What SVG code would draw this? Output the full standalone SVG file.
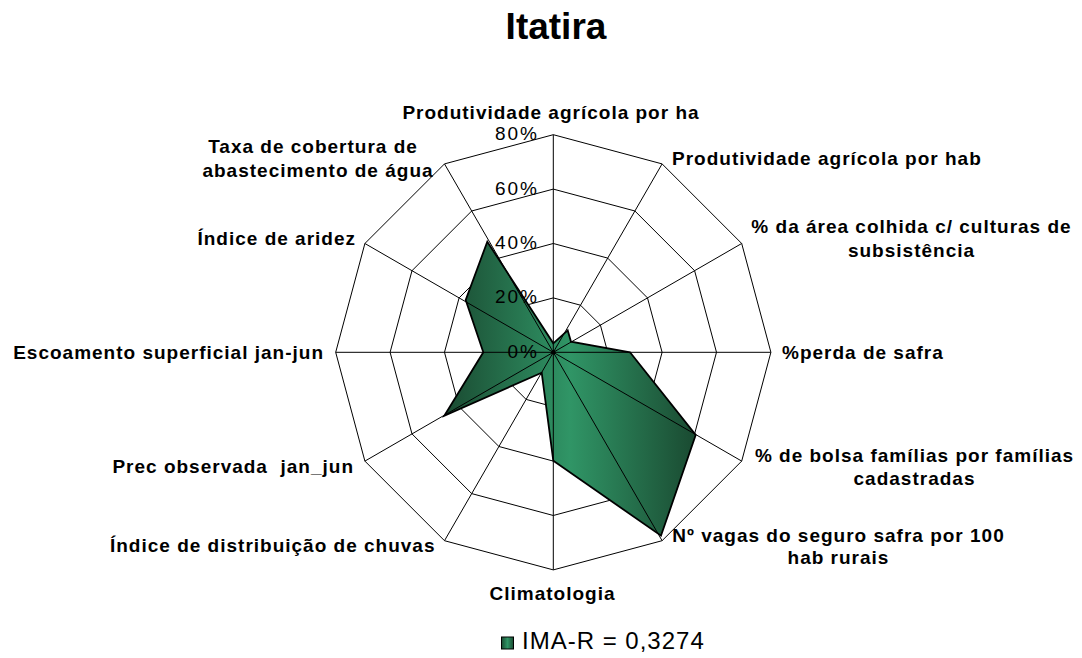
<svg xmlns="http://www.w3.org/2000/svg" width="1082" height="658" viewBox="0 0 1082 658">
<defs>
<linearGradient id="fillG" x1="0" y1="0" x2="1" y2="0">
<stop offset="0" stop-color="#1a4a31"/>
<stop offset="0.5" stop-color="#309566"/>
<stop offset="1" stop-color="#1a4a31"/>
</linearGradient>
<style>
.lbl{font-family:"Liberation Sans",Arial,sans-serif;font-weight:bold;font-size:19px;letter-spacing:1px;fill:#000}
.tick{font-family:"Liberation Sans",Arial,sans-serif;font-size:19px;letter-spacing:2px;fill:#000;text-anchor:end}
.ring{fill:none;stroke:#000;stroke-width:1}
.spoke{stroke:#000;stroke-width:1}
</style>
</defs>
<rect width="1082" height="658" fill="#fff"/>
<text x="556" y="39" text-anchor="middle" font-family="Liberation Sans, Arial, sans-serif" font-weight="bold" font-size="37">Itatira</text>

<g id="grid" transform="translate(553.3,352.3)">
<polygon class="ring" points="0,-54.4 27.2,-47.1 47.1,-27.2 54.4,0 47.1,27.2 27.2,47.1 0,54.4 -27.2,47.1 -47.1,27.2 -54.4,0 -47.1,-27.2 -27.2,-47.1"/>
<polygon class="ring" points="0,-108.8 54.4,-94.2 94.2,-54.4 108.8,0 94.2,54.4 54.4,94.2 0,108.8 -54.4,94.2 -94.2,54.4 -108.8,0 -94.2,-54.4 -54.4,-94.2"/>
<polygon class="ring" points="0,-163.2 81.6,-141.3 141.3,-81.6 163.2,0 141.3,81.6 81.6,141.3 0,163.2 -81.6,141.3 -141.3,81.6 -163.2,0 -141.3,-81.6 -81.6,-141.3"/>
<polygon class="ring" points="0,-217.6 108.8,-188.4 188.4,-108.8 217.6,0 188.4,108.8 108.8,188.4 0,217.6 -108.8,188.4 -188.4,108.8 -217.6,0 -188.4,-108.8 -108.8,-188.4"/>
</g>

<g id="series">
<polygon points="553.3,343.3 567.7,330.4 571,341.7 630,352.3 695.7,435 661,535.7 553.3,460.7 541.7,372.7 444.3,415.7 483.3,352.3 465.7,300 487.3,241.7" fill="url(#fillG)" stroke="#000" stroke-width="1.8" stroke-linejoin="miter"/>
</g>

<g id="connectors" transform="translate(553.3,352.3)">
<line class="spoke" x1="0" y1="0" x2="0" y2="-217.6"/>
<line class="spoke" x1="0" y1="0" x2="108.8" y2="-188.4"/>
<line class="spoke" x1="0" y1="0" x2="188.4" y2="-108.8"/>
<line class="spoke" x1="0" y1="0" x2="217.6" y2="0"/>
<line class="spoke" x1="0" y1="0" x2="188.4" y2="108.8"/>
<line class="spoke" x1="0" y1="0" x2="108.8" y2="188.4"/>
<line class="spoke" x1="0" y1="0" x2="0" y2="217.6"/>
<line class="spoke" x1="0" y1="0" x2="-108.8" y2="188.4"/>
<line class="spoke" x1="0" y1="0" x2="-188.4" y2="108.8"/>
<line class="spoke" x1="0" y1="0" x2="-217.6" y2="0"/>
<line class="spoke" x1="0" y1="0" x2="-188.4" y2="-108.8"/>
<line class="spoke" x1="0" y1="0" x2="-108.8" y2="-188.4"/>
<circle cx="0" cy="0" r="2.2" fill="#000"/>
</g>

<g id="ticks">
<text class="tick" x="539" y="140">80%</text>
<text class="tick" x="539" y="194.5">60%</text>
<text class="tick" x="539" y="249">40%</text>
<text class="tick" x="539" y="303.3">20%</text>
<text class="tick" x="539" y="357.5">0%</text>
</g>

<g id="n0"><text class="lbl" x="551" y="118.5" text-anchor="middle">Produtividade agrícola por ha</text></g>
<g id="n1"><text class="lbl" x="672" y="165">Produtividade agrícola por hab</text></g>
<g id="n2"><text class="lbl" x="911.5" y="233.3" text-anchor="middle">% da área colhida c/ culturas de</text><text class="lbl" x="911.5" y="256.7" text-anchor="middle">subsistência</text></g>
<g id="n3"><text class="lbl" x="782" y="359">%perda de safra</text></g>
<g id="n4"><text class="lbl" x="914.5" y="461.7" text-anchor="middle">% de bolsa famílias por famílias</text><text class="lbl" x="914.5" y="485" text-anchor="middle">cadastradas</text></g>
<g id="n5"><text class="lbl" x="838.5" y="541.7" text-anchor="middle">Nº vagas do seguro safra por 100</text><text class="lbl" x="838.5" y="564.3" text-anchor="middle">hab rurais</text></g>
<g id="n6"><text class="lbl" x="552.5" y="600" text-anchor="middle">Climatologia</text></g>
<g id="n7"><text class="lbl" x="435.5" y="552.3" text-anchor="end">Índice de distribuição de chuvas</text></g>
<g id="n8"><text class="lbl" x="354" y="472.7" text-anchor="end" xml:space="preserve">Prec observada  jan_jun</text></g>
<g id="n9"><text class="lbl" x="324" y="359.3" text-anchor="end">Escoamento superficial jan-jun</text></g>
<g id="n10"><text class="lbl" x="356" y="245" text-anchor="end">Índice de aridez</text></g>
<g id="n11"><text class="lbl" x="313" y="153.3" text-anchor="middle">Taxa de cobertura de</text><text class="lbl" x="318" y="177.3" text-anchor="middle">abastecimento de água</text></g>

<g id="legend">
<rect x="501.5" y="637" width="12" height="12" fill="url(#fillG)" stroke="#000" stroke-width="1"/>
<text x="522" y="649" font-family="Liberation Sans, Arial, sans-serif" font-size="24" letter-spacing="1">IMA-R = 0,3274</text>
</g>
</svg>
